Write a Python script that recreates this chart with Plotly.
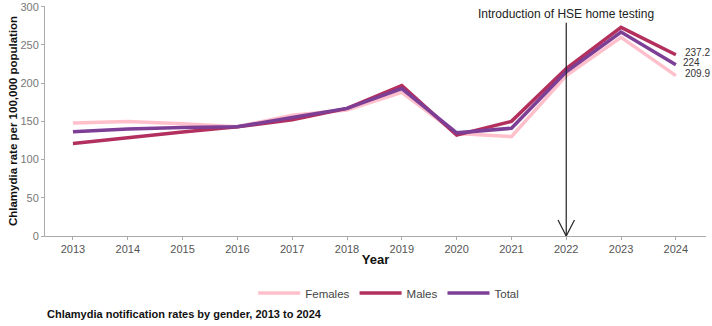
import plotly.graph_objects as go

years = list(range(2013, 2025))
females = [148, 150, 147, 143, 158, 165, 188, 134, 130, 210, 260, 209.9]
males = [121, 129, 136, 143, 152, 167, 197, 132, 150, 219, 273, 237.2]
total = [136.5, 140, 142, 143, 155, 167, 193, 135, 141, 215, 267, 224]

series = [("Females", females, "#FFC0CB"),
          ("Males", males, "#B22F5E"),
          ("Total", total, "#7D3F96")]

end_label_shift = {"Females": 7, "Males": 7, "Total": 5}

fig = go.Figure()
for name, vals, col in series:
    fig.add_trace(go.Scatter(x=years, y=vals, mode="lines", name=name,
                             line=dict(color=col, width=3.5)))

font_fam = "Liberation Sans, Arial, sans-serif"

for (name, vals, col) in series:
    v = vals[-1]
    txt = str(int(v)) if float(v).is_integer() else str(v)
    fig.add_annotation(x=years[-1], y=v, text=txt,
                       showarrow=False, xanchor="left", yanchor="middle",
                       xshift=end_label_shift[name], yshift=2,
                       font=dict(family=font_fam, size=10, color="#333333"))

# Introduction line
event_year = 2022
fig.add_shape(type="line", x0=event_year, x1=event_year, y0=0, y1=279,
              xref="x", yref="y", line=dict(color="#222222", width=1.2))
fig.add_shape(type="line", x0=event_year - 0.15, x1=event_year, y0=21, y1=0,
              xref="x", yref="y", line=dict(color="#222222", width=1.2))
fig.add_shape(type="line", x0=event_year + 0.15, x1=event_year, y0=21, y1=0,
              xref="x", yref="y", line=dict(color="#222222", width=1.2))
fig.add_annotation(x=event_year, y=290, text="Introduction of HSE home testing",
                   showarrow=False, xanchor="center", yanchor="middle",
                   font=dict(family=font_fam, size=12, color="#222222"))

fig.add_annotation(x=0, y=0, xref="paper", yref="paper", xanchor="left", yanchor="top",
                   yshift=-70, xshift=0,
                   text="<b>Chlamydia notification rates by gender, 2013 to 2024</b>",
                   showarrow=False, font=dict(family=font_fam, size=11, color="#111111"))

fig.update_layout(
    width=712, height=326,
    margin=dict(l=45, r=6, t=6, b=90, autoexpand=False),
    paper_bgcolor="white", plot_bgcolor="white",
    font=dict(family=font_fam),
    showlegend=True,
    legend=dict(orientation="h", x=0.52, xanchor="center", y=-0.185, yanchor="top",
                font=dict(size=11.5, color="#444444"), itemwidth=42),
    xaxis=dict(range=[2012.49, 2024.55], tickmode="array", tickvals=years,
               ticktext=[str(y) for y in years], automargin=False,
               showline=True, linecolor="#AAAAAA", linewidth=1, ticks="outside",
               tickcolor="#AAAAAA", ticklen=3, showgrid=False, zeroline=False,
               tickfont=dict(size=11, color="#555555"),
               title=dict(text="<b>Year</b>", standoff=0,
                          font=dict(size=13, color="#111111"))),
    yaxis=dict(range=[0, 301], tickvals=[0, 50, 100, 150, 200, 250, 300],
               showline=True, linecolor="#AAAAAA", linewidth=1, ticks="outside",
               tickcolor="#AAAAAA", ticklen=3, showgrid=False, zeroline=False,
               tickfont=dict(size=11, color="#777777"), automargin=False,
               title=dict(text="<b>Chlamydia rate per 100,000 population</b>", standoff=0,
                          font=dict(size=11.5, color="#111111"))),
)

fig.write_html("out.html")
